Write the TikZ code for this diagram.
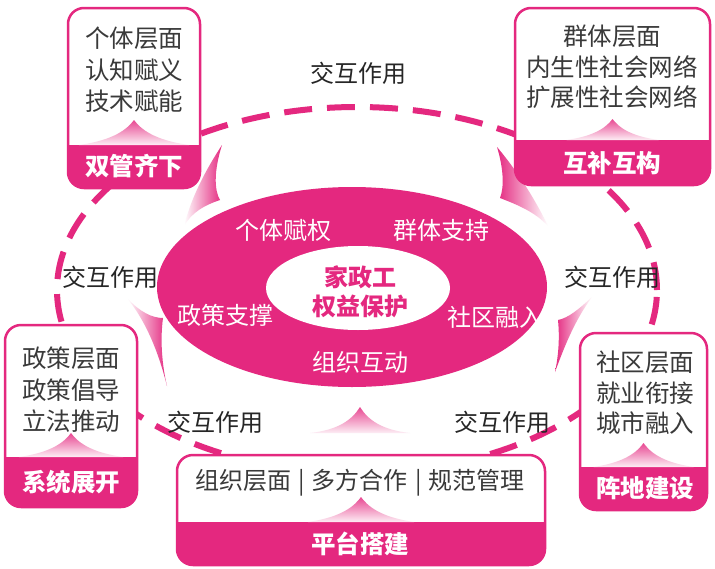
\documentclass[tikz,border=0pt]{standalone}
\usepackage{fontspec}
\setmainfont{Noto Sans CJK SC}
\usetikzlibrary{shapes.geometric}
\definecolor{pk}{HTML}{E4287F}
\definecolor{txtgray}{HTML}{3A3A3A}
\newcommand\infobox[7]{%
  \begin{scope}
    \clip[rounded corners=16pt] (#1,#2) rectangle (#3,#4);
    \fill[white] (#1,#2) rectangle (#3,#4);
    \fill[pk] (#1,#5) rectangle (#3,#4);
    \shade[top color=pk!85, bottom color=pk!8]
      ({(#1+#3)/2-#6},#5) .. controls ({(#1+#3)/2-#6*0.35},{#5-#7*0.2}) and ({(#1+#3)/2-#6*0.12},{#5-#7*0.65}) .. ({(#1+#3)/2},{#5-#7})
      .. controls ({(#1+#3)/2+#6*0.12},{#5-#7*0.65}) and ({(#1+#3)/2+#6*0.35},{#5-#7*0.2}) .. ({(#1+#3)/2+#6},#5) -- cycle;
  \end{scope}
  \draw[pk, line width=2.5pt, rounded corners=16pt] (#1,#2) rectangle (#3,#4);
}
\newcommand\sepbar{\hspace{7pt}|\hspace{7pt}}
\begin{document}
\begin{tikzpicture}[x=1pt,y=-1pt,
  boxtext/.style={text=txtgray, align=center, inner sep=0pt, font=\fontsize{24.5}{31.5}\selectfont},
  bandlabel/.style={text=white, inner sep=0pt, font=\fontsize{24.5}{28}\selectfont\bfseries},
  ringlabel/.style={text=white, inner sep=0pt, font=\fontsize{24}{28}\selectfont},
  interact/.style={text=black!85, inner sep=0pt, font=\fontsize{24}{28}\selectfont},
]
\useasboundingbox (0,0) rectangle (715,568);
\fill[white] (0,0) rectangle (715,568);

% outer dashed ring
\draw[pk, line width=6pt, dash pattern=on 28pt off 15pt] (357,290) ellipse [x radius=300pt, y radius=183pt];

% swooshes
\shade[left color=white, right color=pk] (222,145) .. controls (214,170) and (214,190) .. (220,200) .. controls (205,205) and (192,212) .. (184,226) .. controls (192,195) and (207,168) .. (222,145);
\shade[left color=pk, right color=white] (497,147) .. controls (504,170) and (504,188) .. (500,198) .. controls (518,205) and (535,212) .. (548,226) .. controls (533,195) and (514,167) .. (497,147);
\shade[left color=white, right color=pk] (127,298) .. controls (140,312) and (152,318) .. (163,318) .. controls (160,340) and (162,365) .. (167,386) .. controls (158,350) and (145,320) .. (127,298);
\shade[left color=pk, right color=white] (592,297) .. controls (578,310) and (568,318) .. (558,320) .. controls (560,340) and (558,358) .. (555,372) .. controls (565,345) and (575,320) .. (592,297);
\shade[top color=pk!85, bottom color=pk!8] (310,433) .. controls (338,430) and (352,420) .. (360,407) .. controls (368,420) and (382,430) .. (410,433) -- cycle;

% central ellipse
\fill[pk] (352,287) ellipse [x radius=195pt, y radius=100pt];
\fill[white] (358,288) ellipse [x radius=92pt, y radius=42pt];
\node[text=pk, align=center, inner sep=0pt, font=\fontsize{24}{29}\selectfont\bfseries] (core) at (360,292) {家政工\\权益保护};
\node[ringlabel] (r1) at (283,230) {个体赋权};
\node[ringlabel] (r2) at (441,230) {群体支持};
\node[ringlabel] (r3) at (225,315) {政策支撑};
\node[ringlabel] (r4) at (495,317) {社区融入};
\node[ringlabel] (r5) at (360,362) {组织互动};

% boxes
\infobox{68}{8}{200}{188}{145}{55}{25}
\node[boxtext] (t1) at (134,70) {个体层面\\认知赋义\\技术赋能};
\node[bandlabel] (l1) at (134,166) {双管齐下};

\infobox{515}{8}{710}{185}{140}{46}{21}
\node[boxtext, font=\fontsize{24.5}{30.5}\selectfont] (t2) at (612,67) {群体层面\\内生性社会网络\\扩展性社会网络};
\node[bandlabel] (l2) at (612,163) {互补互构};

\infobox{5}{325}{137}{507}{457}{52}{24}
\node[boxtext] (t3) at (71,390) {政策层面\\政策倡导\\立法推动};
\node[bandlabel] (l3) at (71,482) {系统展开};

\infobox{177}{455}{545}{565}{522}{53}{25}
\node[boxtext, font=\fontsize{24}{28}\selectfont] (t4) at (360,483) {组织层面\sepbar 多方合作\sepbar 规范管理};
\node[bandlabel] (l4) at (360,544) {平台搭建};

\infobox{580}{333}{707}{510}{467}{50}{24}
\node[boxtext, font=\fontsize{24.5}{30.5}\selectfont] (t5) at (645,393) {社区层面\\就业衔接\\城市融入};
\node[bandlabel] (l5) at (645,488) {阵地建设};

% interaction labels
\node[interact] (i1) at (358,73) {交互作用};
\node[interact] (i2) at (110,277) {交互作用};
\node[interact] (i3) at (612,277) {交互作用};
\node[interact] (i4) at (215,422) {交互作用};
\node[interact] (i5) at (502,422) {交互作用};
\end{tikzpicture}
\end{document}
